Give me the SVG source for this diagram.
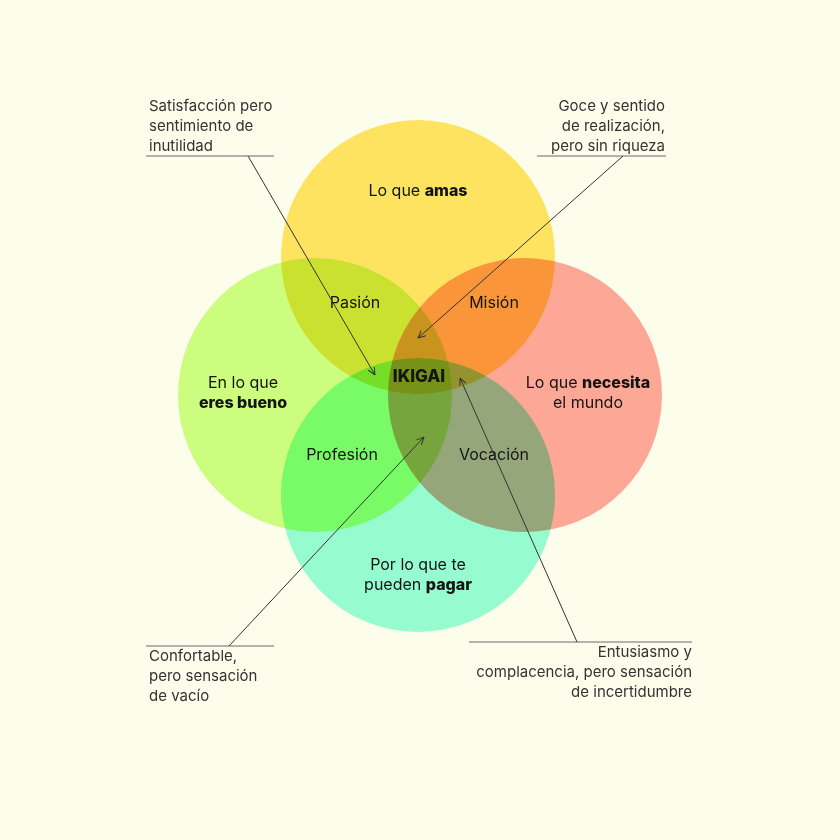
<svg xmlns="http://www.w3.org/2000/svg" width="840" height="840" viewBox="0 0 840 840">
<defs>
<style>
.c{mix-blend-mode:multiply}
.lbl{font-family:Inter,"Liberation Sans",sans-serif;font-size:16px;fill:#141414;text-anchor:middle}
.b{font-weight:800}
.ik{font-size:17px}
.ann{font-family:Inter,"Liberation Sans",sans-serif;font-size:15px;fill:#333}
.ul{stroke:#9a9a9a;stroke-width:1.5;fill:none}
.ld{stroke:#333;stroke-width:1;fill:none;marker-end:url(#ah)}
</style>
<marker id="ah" viewBox="0 0 8 8" refX="7.5" refY="4" markerWidth="8" markerHeight="8" markerUnits="userSpaceOnUse" orient="auto">
<path d="M0,0.5 L7.5,4 L0,7.5" fill="none" stroke="#333" stroke-width="1"/>
</marker>
</defs>
<rect width="840" height="840" fill="#fdfdec"/>
<g style="isolation:isolate">
<g id="amas"><circle class="c" cx="418" cy="257" r="137" fill="#fde360"/></g>
<g id="bueno"><circle class="c" cx="315" cy="395" r="137" fill="#cdfd7e"/></g>
<g id="necesita"><circle class="c" cx="525" cy="395" r="137" fill="#fda896"/></g>
<g id="pagar"><circle class="c" cx="418" cy="495" r="137" fill="#96fcd0"/></g>
</g>
<g id="labels">
<text class="lbl" x="418" y="196">Lo que <tspan class="b">amas</tspan></text>
<text class="lbl" x="355" y="308">Pasión</text>
<text class="lbl" x="494" y="308">Misión</text>
<text class="lbl b ik" x="419" y="382">IKIGAI</text>
<text class="lbl" x="243" y="388">En lo que</text>
<text class="lbl b" x="243" y="408">eres bueno</text>
<text class="lbl" x="588" y="388">Lo que <tspan class="b">necesita</tspan></text>
<text class="lbl" x="588" y="408">el mundo</text>
<text class="lbl" x="342" y="460">Profesión</text>
<text class="lbl" x="494" y="460">Vocación</text>
<text class="lbl" x="418" y="570">Por lo que te</text>
<text class="lbl" x="418" y="590">pueden <tspan class="b">pagar</tspan></text>
</g>
<g id="connectors">
<line class="ul" x1="146" y1="156" x2="274" y2="156"/>
<line class="ld" x1="248" y1="156" x2="375" y2="375"/>
<line class="ul" x1="537" y1="156" x2="666" y2="156"/>
<line class="ld" x1="623" y1="156" x2="418" y2="338"/>
<line class="ul" x1="146" y1="646" x2="274" y2="646"/>
<line class="ld" x1="229" y1="646" x2="424" y2="437"/>
<line class="ul" x1="469" y1="642" x2="692" y2="642"/>
<line class="ld" x1="577" y1="642" x2="460" y2="378"/>
</g>
<g id="notes">
<text class="ann" x="149" y="111">Satisfacción pero</text>
<text class="ann" x="149" y="131">sentimiento de</text>
<text class="ann" x="149" y="151">inutilidad</text>
<text class="ann" x="665" y="111" text-anchor="end">Goce y sentido</text>
<text class="ann" x="665" y="131" text-anchor="end">de realización,</text>
<text class="ann" x="665" y="151" text-anchor="end">pero sin riqueza</text>
<text class="ann" x="149" y="661">Confortable,</text>
<text class="ann" x="149" y="681">pero sensación</text>
<text class="ann" x="149" y="701">de vacío</text>
<text class="ann" x="692" y="657" text-anchor="end">Entusiasmo y</text>
<text class="ann" x="692" y="677" text-anchor="end">complacencia, pero sensación</text>
<text class="ann" x="692" y="697" text-anchor="end">de incertidumbre</text>
</g>
</svg>
